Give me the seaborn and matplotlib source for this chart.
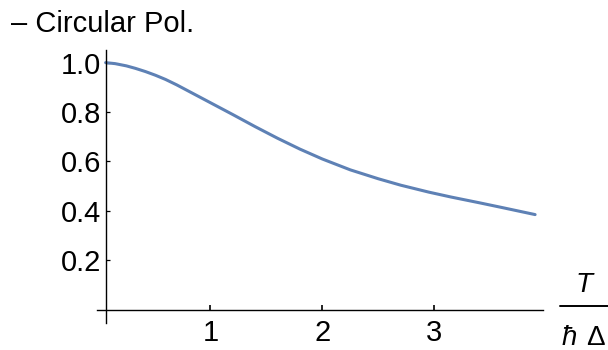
import matplotlib
matplotlib.use('Agg')
import matplotlib.pyplot as plt
from matplotlib.lines import Line2D
from matplotlib.ticker import FixedLocator
import seaborn as sns


# values
t_ratio = [0.065, 0.15, 0.25, 0.33, 0.42, 0.51, 0.60, 0.70, 0.80, 0.90, 1.00, 1.20, 1.40,
           1.60, 1.80, 2.00, 2.25, 2.50, 2.70, 2.95, 3.15, 3.40, 3.60, 3.90]
polarization = [1.000, 0.996, 0.987, 0.977, 0.964, 0.949, 0.932, 0.910, 0.886, 0.862,
                0.838, 0.790, 0.741, 0.694, 0.650, 0.610, 0.566, 0.530, 0.504, 0.476,
                0.456, 0.433, 0.414, 0.385]

x_ticks = [1, 2, 3]
y_ticks = [0.2, 0.4, 0.6, 0.8, 1.0]
y_minor = [-0.05, 0.05, 0.1, 0.15, 0.25, 0.3, 0.35, 0.45, 0.5, 0.55,
           0.65, 0.7, 0.75, 0.85, 0.9, 0.95, 1.05]

legend_label = '\u2013 Circular Pol.'
line_color = '#5E81B5'


def main():
    sns.set_style('white')
    plt.rcParams['font.family'] = ['Liberation Sans', 'DejaVu Sans']
    plt.rcParams['text.color'] = 'black'

    fig = plt.figure(figsize=(6.08, 3.5), dpi=100)
    ax = fig.add_axes([0.159, 0.0763, 0.734, 0.78])

    sns.lineplot(x=t_ratio, y=polarization, ax=ax, color=line_color, linewidth=2.2)

    ax.set_xlim(-0.015, 3.97)
    ax.set_ylim(-0.055, 1.05)

    # Mathematica-style crossing axes
    for side in ['top', 'right']:
        ax.spines[side].set_visible(False)
    ax.spines['left'].set_position(('data', 0.065))
    ax.spines['bottom'].set_position(('data', 0))
    for side in ['left', 'bottom']:
        ax.spines[side].set_color('black')
        ax.spines[side].set_linewidth(1.0)

    ax.set_xticks(x_ticks)
    ax.set_xticklabels([str(v) for v in x_ticks])
    ax.set_yticks(y_ticks)
    ax.set_yticklabels(['%.1f' % v for v in y_ticks])
    ax.yaxis.set_minor_locator(FixedLocator(y_minor))

    ax.tick_params(axis='both', which='both', direction='in', colors='black', labelsize=21)
    ax.tick_params(axis='x', which='major', length=3.5, width=1.2, pad=7)
    ax.tick_params(axis='y', which='major', length=3, width=0.9, pad=3.4)
    ax.tick_params(axis='y', which='minor', length=1.8, width=0.8)
    ax.tick_params(left=True, bottom=True)
    ax.set_xlabel('')
    ax.set_ylabel('')

    # legend entry at top left
    fig.text(0.018, 0.909, legend_label, fontsize=21, ha='left', va='baseline', color='black')

    # axis label T / (hbar Delta) as a fraction
    fig.text(583.7 / 608, 1 - 292 / 350, 'T', fontsize=20, style='italic',
             ha='center', va='baseline', color='black')
    fig.add_artist(Line2D([560 / 608, 1.0], [1 - 306 / 350] * 2,
                          transform=fig.transFigure, color='black', linewidth=1.4))
    fig.text(562 / 608, 1 - 345 / 350, '\u0127', fontsize=20, style='italic',
             ha='left', va='baseline', color='black')
    fig.text(586 / 608, 1 - 345 / 350, '\u0394', fontsize=20,
             ha='left', va='baseline', color='black')

    fig.savefig('out.png', dpi=100)


if __name__ == '__main__':
    main()
